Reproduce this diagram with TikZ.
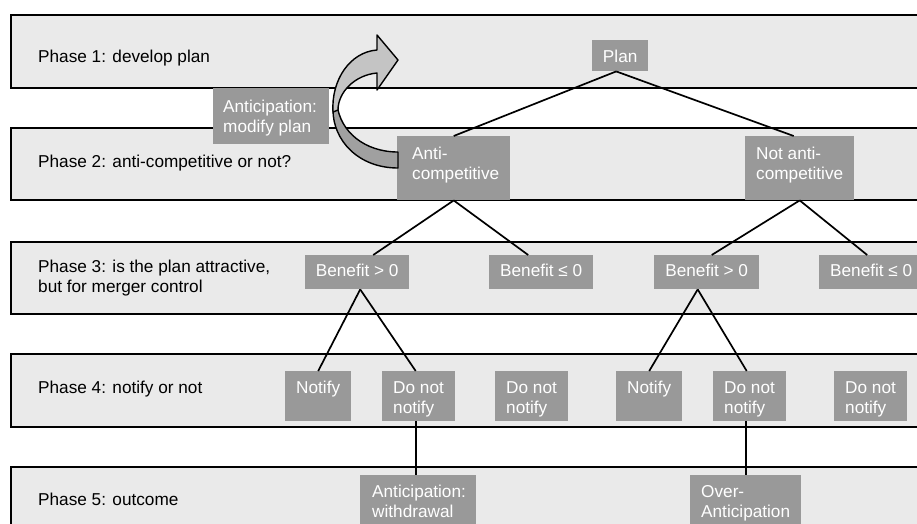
\documentclass[tikz,border=0pt]{standalone}
\usepackage{fontspec}
\setmainfont{Liberation Sans}
\definecolor{bandgray}{HTML}{EAEAEA}
\definecolor{boxgray}{HTML}{999999}
\definecolor{arrowlight}{HTML}{C4C4C4}
\definecolor{arrowdark}{HTML}{A0A0A0}
\newcommand\lbx[4]{\parbox[c][#2pt][t]{#1pt}{\raggedright\leftskip=#3pt\rule{0pt}{22pt}#4}}
\newcommand\lbxx[5]{\parbox[c][#2pt][t]{#1pt}{\raggedright\leftskip=#3pt\rule{0pt}{#4pt}#5}}
\newcommand\cbx[4]{\parbox[c][#2pt][t]{#1pt}{\centering\rule{0pt}{#3pt}#4}}
\begin{document}
\begin{tikzpicture}[x=1pt,y=-1pt,
  every node/.style={font=\fontsize{17.2}{20}\selectfont},
  band/.style={fill=bandgray,draw=black,line width=2pt},
  phase/.style={inner sep=0pt,anchor=base west,text=black},
  box/.style={fill=boxgray,text=white,inner sep=0pt,anchor=north west},
  link/.style={draw=black,line width=1.7pt},
  arr/.style={draw=black,line width=1.4pt,line join=round}]
\useasboundingbox (0,0) rectangle (917,523);
\clip (0,0) rectangle (917,523);
% bands
\draw[band] (11,15) rectangle (930,88);
\draw[band] (11,128) rectangle (930,200);
\draw[band] (11,242) rectangle (930,314);
\draw[band] (11,354) rectangle (930,427);
\draw[band] (11,467) rectangle (930,540);
% phase labels
\node[phase] (p1) at (38,62) {Phase 1: develop plan};
\node[phase] (p2) at (38,167) {Phase 2: anti-competitive or not?};
\node[phase] (p3) at (38,272) {\parbox[t]{320pt}{Phase 3: is the plan attractive,\\but for merger control}};
\node[phase] (p4) at (38,393) {Phase 4: notify or not};
\node[phase] (p5) at (38,505) {Phase 5: outcome};
% boxes
\node[box] (plan) at (592,40) {\cbx{56}{31}{22}{Plan}};
\node[box] (anti) at (397,136) {\lbxx{113}{64}{15}{23}{Anti-\\competitive}};
\node[box] (nanti) at (745,136) {\lbxx{109}{64}{11}{23}{Not anti-\\competitive}};
\node[box] (b1) at (305,255) {\cbx{104}{34}{21}{Benefit > 0}};
\node[box] (b2) at (489,255) {\cbx{104}{34}{21}{Benefit ≤ 0}};
\node[box] (b3) at (654,255) {\cbx{105}{34}{21}{Benefit > 0}};
\node[box] (b4) at (819,255) {\cbx{104}{34}{21}{Benefit ≤ 0}};
\node[box] (n1) at (285,371) {\lbx{66}{50}{11}{Notify}};
\node[box] (d1) at (382,371) {\lbx{73}{50}{11}{Do not\\notify}};
\node[box] (d2) at (495,371) {\lbx{73}{50}{11}{Do not\\notify}};
\node[box] (n2) at (616,371) {\lbx{66}{50}{11}{Notify}};
\node[box] (d3) at (713,371) {\lbx{73}{50}{11}{Do not\\notify}};
\node[box] (d4) at (834,371) {\lbx{73}{50}{11}{Do not\\notify}};
\node[box] (wd) at (360,475) {\lbx{116}{60}{12}{Anticipation:\\withdrawal}};
\node[box] (oa) at (690,475) {\lbx{111}{60}{11}{Over-\\Anticipation}};
\node[box] (mp) at (213,88) {\lbxx{116}{56}{10}{24}{Anticipation:\\modify plan}};
% connectors
\draw[link] ([xshift=-4pt]plan.south) -- (anti.north);
\draw[link] ([xshift=-4pt]plan.south) -- ([xshift=-6pt]nanti.north);
\draw[link] (anti.south) -- ([xshift=16pt]b1.north);
\draw[link] (anti.south) -- ([xshift=-13pt]b2.north);
\draw[link] (nanti.south) -- ([xshift=5pt]b3.north);
\draw[link] (nanti.south) -- ([xshift=-4pt]b4.north);
\draw[link] ([xshift=3pt]b1.south) -- (n1.north);
\draw[link] ([xshift=3pt]b1.south) -- ([xshift=-3pt]d1.north);
\draw[link] ([xshift=-9pt]b3.south) -- (n2.north);
\draw[link] ([xshift=-9pt]b3.south) -- ([xshift=-3pt]d3.north);
\draw[link] ([xshift=-3pt]d1.south) -- ([xshift=-3pt]d1.south |- wd.north);
\draw[link] ([xshift=-4pt]d3.south) -- ([xshift=-4pt]d3.south |- oa.north);
% curved arrow
\filldraw[arr,fill=arrowdark] (398,168) .. controls (358,168) and (333,140) .. (333,110)
  -- (337,104) .. controls (340,132) and (365,152) .. (398,152) -- cycle;
\filldraw[arr,fill=arrowlight] (333,112) .. controls (331,80) and (350,52) .. (377,50)
  -- (377,35) -- (398,60) -- (377,90) -- (377,73)
  .. controls (355,75) and (338,92) .. (338,110) -- cycle;
\end{tikzpicture}
\end{document}
